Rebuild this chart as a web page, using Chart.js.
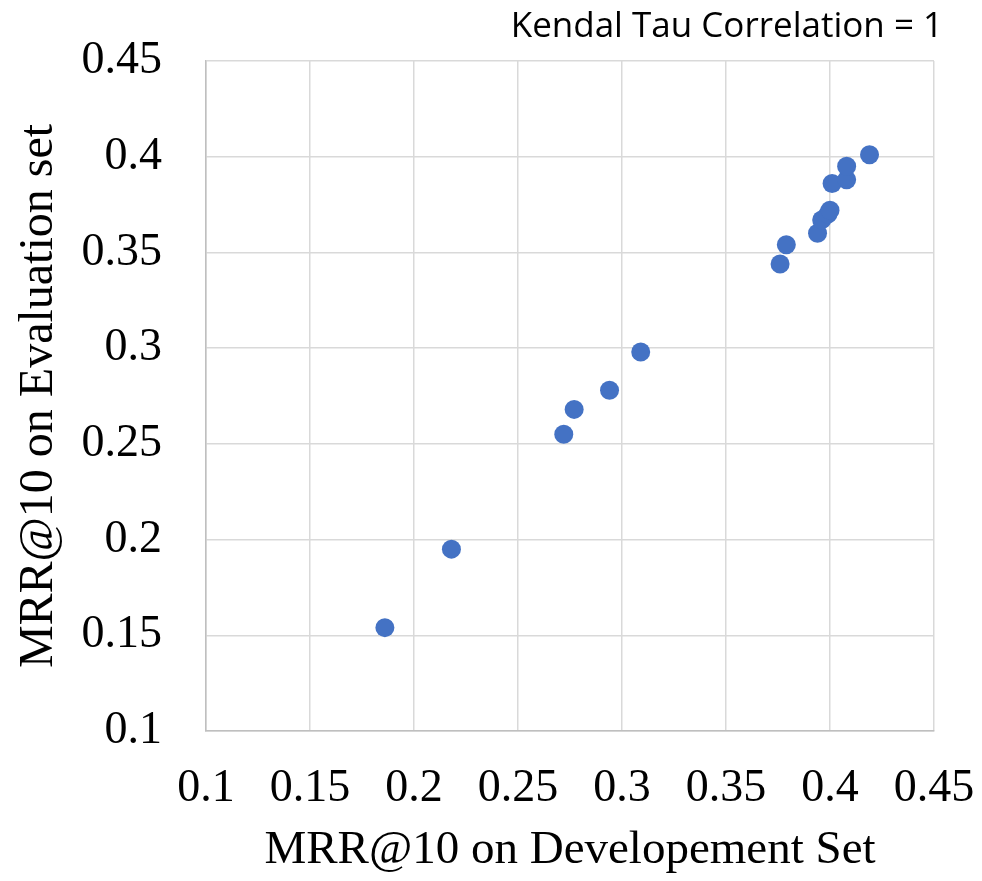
<!DOCTYPE html>
<html>
<head>
<meta charset="utf-8">
<script src="https://cdn.jsdelivr.net/npm/chart.js@4/dist/chart.umd.min.js"></script>
<style>
  html, body { margin: 0; padding: 0; background: #fff; }
  #wrap { width: 982px; height: 881px; }
</style>
</head>
<body>
<div id="wrap"><canvas id="mrrChart"></canvas></div>
<script>
// MRR@10 dev vs eval
const devMrr = [0.186, 0.218, 0.272, 0.277, 0.294, 0.309, 0.376, 0.379, 0.394, 0.396, 0.399, 0.400, 0.401, 0.408, 0.408, 0.419];
const evalMrr = [0.154, 0.195, 0.255, 0.268, 0.278, 0.298, 0.344, 0.354, 0.360, 0.367, 0.370, 0.372, 0.386, 0.388, 0.395, 0.401];
const tickValues = [0.1, 0.15, 0.2, 0.25, 0.3, 0.35, 0.4, 0.45];
const tickLabels = ['0.1', '0.15', '0.2', '0.25', '0.3', '0.35', '0.4', '0.45'];
const cornerNote = 'Kendal Tau Correlation = 1';

const serif = "'Liberation Serif', 'Times New Roman', serif";

const cornerNotePlugin = {
    id: 'cornerNote',
    afterDraw(chart) {
        const ctx = chart.ctx;
        ctx.save();
        ctx.font = "35px 'Open Sans', sans-serif";
        ctx.fillStyle = '#000';
        ctx.textAlign = 'right';
        ctx.textBaseline = 'middle';
        ctx.fillText(cornerNote, chart.width - 39, 27);
        ctx.restore();
    }
};

function fixTicks(scale) {
    scale.ticks = tickValues.map(v => ({ value: v }));
}

const ctx = document.getElementById('mrrChart').getContext('2d');
new Chart(ctx, {
    type: 'scatter',
    data: {
        datasets: [{
            data: devMrr.map((x, i) => ({ x: x, y: evalMrr[i] })),
            backgroundColor: '#4472C4',
            borderWidth: 0,
            pointRadius: 9.5,
            pointHoverRadius: 9.5
        }]
    },
    plugins: [cornerNotePlugin],
    options: {
        responsive: true,
        maintainAspectRatio: false,
        animation: false,
        layout: { padding: { top: 61, right: 48, left: 0, bottom: 0 } },
        plugins: {
            legend: { display: false },
            tooltip: { enabled: false }
        },
        scales: {
            x: {
                type: 'linear',
                min: 0.1,
                max: 0.45,
                afterBuildTicks: fixTicks,
                afterFit(scale) {
                    scale.height = 150;
                    scale.paddingLeft = 0;
                    scale.paddingRight = 0;
                },
                ticks: {
                    callback: (v, i) => tickLabels[i],
                    font: { family: serif, size: 46 },
                    color: '#000',
                    padding: 30,
                    maxRotation: 0
                },
                grid: { color: '#d9d9d9', lineWidth: 1.5, drawTicks: false },
                border: { color: '#bfbfbf', width: 1.5 },
                title: {
                    display: true,
                    text: 'MRR@10 on Developement Set',
                    font: { family: serif, size: 47 },
                    color: '#000',
                    padding: { top: 0, bottom: 2 }
                }
            },
            y: {
                type: 'linear',
                min: 0.1,
                max: 0.45,
                afterBuildTicks: fixTicks,
                afterFit(scale) {
                    scale.width = 206;
                    scale.paddingTop = 0;
                    scale.paddingBottom = 0;
                },
                ticks: {
                    callback: (v, i) => tickLabels[i],
                    font: { family: serif, size: 46 },
                    color: '#000',
                    padding: 44
                },
                grid: { color: '#d9d9d9', lineWidth: 1.5, drawTicks: false },
                border: { color: '#bfbfbf', width: 1.5 },
                title: {
                    display: true,
                    text: 'MRR@10 on Evaluation set',
                    font: { family: serif, size: 48 },
                    color: '#000',
                    padding: { top: 11, bottom: 0 }
                }
            }
        }
    }
});
</script>
</body>
</html>
